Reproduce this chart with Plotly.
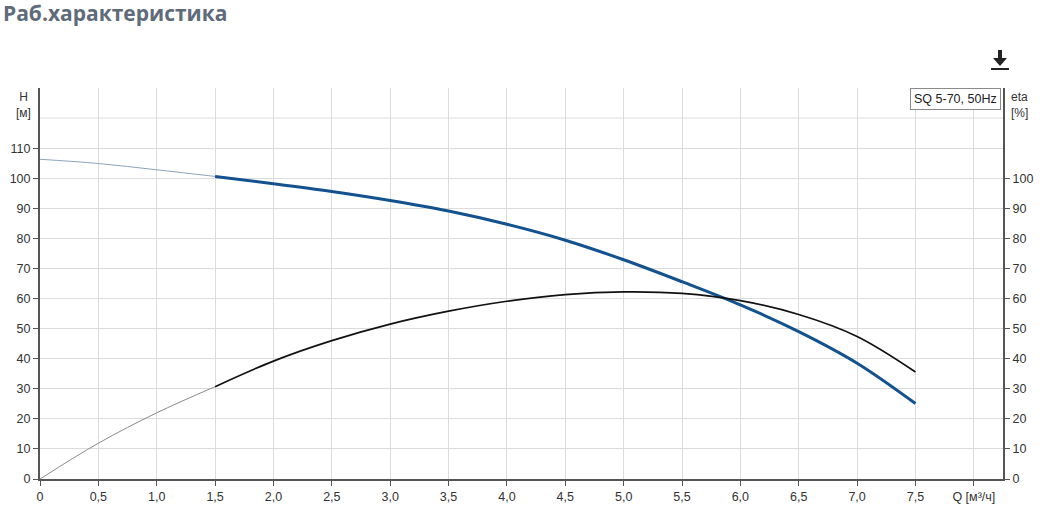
import plotly.graph_objects as go

# ---- data ----
q_ext = [0, 0.5, 1.0, 1.5]
h_ext = [106.3, 104.9, 102.8, 100.6]
eta_ext = [0, 11.9, 22.0, 30.7]

q_main = [1.5, 2.0, 2.5, 3.0, 3.5, 4.0, 4.5, 5.0, 5.5, 6.0, 6.5, 7.0, 7.5]
h_main = [100.6, 98.2, 95.6, 92.6, 89.1, 84.7, 79.4, 72.9, 65.6, 57.9, 49.0, 38.5, 25.1]
eta_main = [30.7, 39.2, 46.0, 51.5, 55.8, 59.1, 61.3, 62.2, 61.7, 59.3, 54.7, 47.4, 35.6]

x_tickvals = [0, 0.5, 1.0, 1.5, 2.0, 2.5, 3.0, 3.5, 4.0, 4.5, 5.0, 5.5, 6.0, 6.5, 7.0, 7.5, 8.0]
x_ticktext = ["0", "0,5", "1,0", "1,5", "2,0", "2,5", "3,0", "3,5", "4,0", "4,5",
              "5,0", "5,5", "6,0", "6,5", "7,0", "7,5", "Q [м³/ч]"]
h_tickvals = [0, 10, 20, 30, 40, 50, 60, 70, 80, 90, 100, 110]
eta_tickvals = [0, 10, 20, 30, 40, 50, 60, 70, 80, 90, 100]

title_text = "Раб.характеристика"
legend_text = "SQ 5-70, 50Hz"

# ---- layout geometry (pixels) ----
W, H = 1043, 507
L, R, T, B = 40, 40, 88, 28
pw, ph = W - L - R, H - T - B


def px(x):
    return (x - L) / pw


def py(y):
    return (H - B - y) / ph


fig = go.Figure()

fig.add_trace(go.Scatter(x=q_ext, y=h_ext, mode="lines", line=dict(color="#8ea3bb", width=1, shape="spline"),
                         hoverinfo="skip", showlegend=False))
fig.add_trace(go.Scatter(x=q_ext, y=eta_ext, mode="lines", yaxis="y2",
                         line=dict(color="#8a8a8a", width=1, shape="spline"),
                         hoverinfo="skip", showlegend=False))
fig.add_trace(go.Scatter(x=q_main, y=eta_main, mode="lines", yaxis="y2",
                         line=dict(color="#111111", width=1.7, shape="spline"), showlegend=False))
fig.add_trace(go.Scatter(x=q_main, y=h_main, mode="lines",
                         line=dict(color="#13528f", width=3, shape="spline"), showlegend=False))

tickfont = dict(family="Liberation Sans, Arial, sans-serif", size=12.5, color="#333333")

fig.update_layout(
    width=W, height=H,
    margin=dict(l=L, r=R, t=T, b=B),
    paper_bgcolor="white", plot_bgcolor="white",
    xaxis=dict(range=[0, 8.25], tickvals=x_tickvals, ticktext=x_ticktext, tickfont=tickfont,
               showgrid=True, gridcolor="#dcdcdc", gridwidth=1, zeroline=False,
               showline=True, linecolor="#555555", linewidth=2,
               ticks="outside", ticklen=5, tickcolor="#555555", tickwidth=1, automargin=False),
    yaxis=dict(range=[0, 130], tickvals=h_tickvals, tickfont=tickfont,
               showgrid=True, gridcolor="#dcdcdc", gridwidth=1, zeroline=False,
               showline=True, linecolor="#555555", linewidth=2,
               ticks="outside", ticklen=5, tickcolor="#555555", tickwidth=1, automargin=False),
    yaxis2=dict(range=[0, 130], tickvals=eta_tickvals, tickfont=tickfont, overlaying="y", side="right",
                showgrid=False, zeroline=False,
                showline=True, linecolor="#555555", linewidth=2,
                ticks="outside", ticklen=5, tickcolor="#555555", tickwidth=1, automargin=False),
)

# gridline at 120 without tick
fig.add_shape(type="line", xref="paper", yref="y", x0=0, x1=1, y0=120, y1=120,
              line=dict(color="#dcdcdc", width=1), layer="below")

# title
fig.add_annotation(text="<b>" + title_text + "</b>", xref="paper", yref="paper",
                   x=px(1), y=py(13), xanchor="left", yanchor="middle", showarrow=False,
                   font=dict(family="Open Sans, sans-serif", size=21, color="#5f6b7b"))

# axis unit labels
fig.add_annotation(text="H<br>[м]", xref="paper", yref="paper", x=px(33), y=py(88), xanchor="right",
                   yanchor="top", showarrow=False, align="center",
                   font=dict(family="Liberation Sans, Arial, sans-serif", size=12, color="#333333"))
fig.add_annotation(text="eta<br>[%]", xref="paper", yref="paper", x=px(1009), y=py(88), xanchor="left",
                   yanchor="top", showarrow=False, align="left",
                   font=dict(family="Liberation Sans, Arial, sans-serif", size=12, color="#333333"))

# legend box
fig.add_annotation(text=legend_text, xref="paper", yref="paper", x=px(1001), y=py(88), xanchor="right",
                   yanchor="top", showarrow=False, bgcolor="white", bordercolor="#8a8a8a", borderwidth=1,
                   borderpad=3,
                   font=dict(family="Liberation Sans, Arial, sans-serif", size=12.5, color="#222222"))

# download icon
arrow = (f"M {px(998)} {py(50)} L {px(1002)} {py(50)} L {px(1002)} {py(58)} L {px(1007)} {py(58)} "
         f"L {px(1000)} {py(66)} L {px(993)} {py(58)} L {px(998)} {py(58)} Z")
fig.add_shape(type="path", xref="paper", yref="paper", path=arrow,
              fillcolor="#222222", line=dict(color="#222222", width=0))
fig.add_shape(type="rect", xref="paper", yref="paper", x0=px(991), x1=px(1009), y0=py(70), y1=py(68),
              fillcolor="#222222", line=dict(width=0))

fig.write_html("out.html", config={"displayModeBar": False},
               post_script="document.body.style.margin='0';document.body.style.overflow='hidden';")
